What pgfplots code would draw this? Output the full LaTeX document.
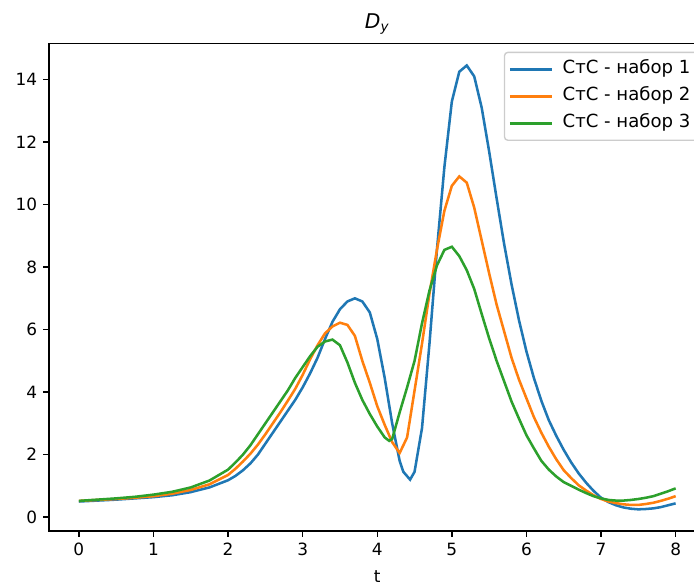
\documentclass[border=0pt]{standalone}
\usepackage{fontspec}
\setmainfont{DejaVu Sans}
\usepackage{pgfplots}
\pgfplotsset{compat=1.18}
\definecolor{tabblue}{HTML}{1F77B4}
\definecolor{taborange}{HTML}{FF7F0E}
\definecolor{tabgreen}{HTML}{2CA02C}
\definecolor{legframe}{gray}{0.8}

\begin{document}
\begin{tikzpicture}
\useasboundingbox (-29.0pt,-31.5pt) rectangle (381.6pt,314.1pt);
\clip (-29.0pt,-31.5pt) rectangle (381.6pt,314.1pt);
\begin{axis}[
    at={(0,0)}, anchor=south west,
    scale only axis, width=388.4pt, height=288.5pt,
    xmin=-0.4, xmax=8.4, ymin=-0.44, ymax=15.16,
    xtick={0,1,...,8}, ytick={0,2,...,14},
    xtick pos=left, ytick pos=left,
    tick align=outside, major tick length=3.5pt,
    tick style={black, line width=0.8pt},
    axis line style={line width=0.8pt},
    font=\fontsize{10}{12}\selectfont,
    /pgf/number format/assume math mode=true,
    title={\fontsize{12}{14}\selectfont\textit{D}\textsubscript{\textit{y}}},
    title style={at={(0.5,1)}, anchor=base, yshift=2.9pt},
    xlabel={t},
    xlabel style={at={(0.5,0)}, anchor=base, yshift=-30.5pt},
    legend cell align=left,
    legend image code/.code={\draw[#1, line width=1.5pt] (0pt,0pt) -- (25pt,0pt);},
    legend style={at={(0.9895,0.9827)}, anchor=north east,
        draw=legframe, line width=0.8pt, rounded corners=2pt,
        fill=white, fill opacity=0.8, text opacity=1,
        inner xsep=2.5pt, inner ysep=2pt, row sep=0pt,
        font=\fontsize{10.7}{12.8}\selectfont,
        nodes={text height=7.6pt, text depth=2.2pt, inner ysep=3.1pt},
        /tikz/every odd column/.append style={column sep=3.4pt}},
]
\addplot[tabblue, line width=1.5pt] coordinates {
(0,0.50)(0.25,0.53)(0.5,0.56)(0.75,0.60)(1.0,0.64)(1.25,0.70)(1.5,0.80)(1.75,0.95)
(2.0,1.18)(2.1,1.32)(2.2,1.50)(2.3,1.72)(2.4,2.00)(2.5,2.35)(2.6,2.70)(2.7,3.05)
(2.8,3.40)(2.9,3.75)(3.0,4.15)(3.1,4.60)(3.2,5.10)(3.3,5.70)(3.4,6.25)(3.5,6.65)
(3.6,6.90)(3.7,7.00)(3.8,6.90)(3.9,6.55)(4.0,5.70)(4.1,4.45)(4.2,3.00)(4.3,1.80)
(4.35,1.45)(4.44,1.20)(4.5,1.45)(4.6,2.85)(4.7,5.55)(4.8,8.55)(4.9,11.2)(5.0,13.3)
(5.1,14.25)(5.2,14.45)(5.3,14.1)(5.4,13.1)(5.5,11.7)(5.6,10.2)(5.7,8.75)(5.8,7.45)
(5.9,6.30)(6.0,5.30)(6.1,4.45)(6.2,3.72)(6.3,3.10)(6.4,2.60)(6.5,2.15)(6.6,1.75)
(6.7,1.40)(6.8,1.10)(6.9,0.84)(7.0,0.62)(7.1,0.48)(7.2,0.38)(7.3,0.31)(7.4,0.27)
(7.5,0.25)(7.6,0.26)(7.7,0.28)(7.8,0.32)(7.9,0.38)(8.0,0.44)
};
\addlegendentry{СтС - набор 1}
\addplot[taborange, line width=1.5pt] coordinates {
(0,0.52)(0.25,0.55)(0.5,0.58)(0.75,0.62)(1.0,0.67)(1.25,0.75)(1.5,0.87)(1.75,1.05)
(2.0,1.35)(2.1,1.55)(2.2,1.78)(2.3,2.03)(2.4,2.32)(2.5,2.65)(2.6,3.00)(2.7,3.35)
(2.8,3.72)(2.9,4.10)(3.0,4.55)(3.1,5.05)(3.2,5.50)(3.3,5.88)(3.4,6.10)(3.5,6.22)
(3.6,6.15)(3.7,5.80)(3.8,5.00)(3.9,4.30)(4.0,3.55)(4.1,2.95)(4.2,2.40)(4.3,2.05)
(4.4,2.55)(4.5,4.05)(4.6,5.55)(4.7,7.15)(4.8,8.55)(4.9,9.80)(5.0,10.6)(5.1,10.9)
(5.2,10.7)(5.3,9.90)(5.4,8.85)(5.5,7.80)(5.6,6.80)(5.7,5.95)(5.8,5.10)(5.9,4.40)
(6.0,3.80)(6.1,3.20)(6.2,2.70)(6.3,2.25)(6.4,1.85)(6.5,1.50)(6.6,1.25)(6.7,1.02)
(6.8,0.85)(6.9,0.70)(7.0,0.58)(7.1,0.50)(7.2,0.45)(7.3,0.41)(7.4,0.39)(7.5,0.39)
(7.6,0.42)(7.7,0.46)(7.8,0.52)(7.9,0.59)(8.0,0.67)
};
\addlegendentry{СтС - набор 2}
\addplot[tabgreen, line width=1.5pt] coordinates {
(0,0.52)(0.25,0.56)(0.5,0.60)(0.75,0.65)(1.0,0.72)(1.25,0.81)(1.5,0.95)(1.75,1.17)
(2.0,1.52)(2.1,1.75)(2.2,2.00)(2.3,2.30)(2.4,2.65)(2.5,3.00)(2.6,3.35)(2.7,3.70)
(2.8,4.05)(2.9,4.45)(3.0,4.80)(3.1,5.15)(3.2,5.45)(3.3,5.62)(3.4,5.68)(3.5,5.50)
(3.6,4.95)(3.7,4.30)(3.8,3.75)(3.9,3.30)(4.0,2.90)(4.1,2.55)(4.16,2.44)(4.2,2.50)
(4.3,3.35)(4.4,4.15)(4.5,5.00)(4.6,6.20)(4.7,7.25)(4.8,8.05)(4.9,8.55)(5.0,8.65)
(5.1,8.35)(5.2,7.90)(5.3,7.30)(5.4,6.50)(5.5,5.72)(5.6,5.00)(5.7,4.35)(5.8,3.70)
(5.9,3.15)(6.0,2.62)(6.1,2.20)(6.2,1.80)(6.3,1.52)(6.4,1.30)(6.5,1.12)(6.6,1.00)
(6.7,0.88)(6.8,0.77)(6.9,0.67)(7.0,0.60)(7.1,0.55)(7.2,0.53)(7.3,0.53)(7.4,0.55)
(7.5,0.58)(7.6,0.62)(7.7,0.67)(7.8,0.75)(7.9,0.83)(8.0,0.92)
};
\addlegendentry{СтС - набор 3}
\end{axis}
\end{tikzpicture}
\end{document}
